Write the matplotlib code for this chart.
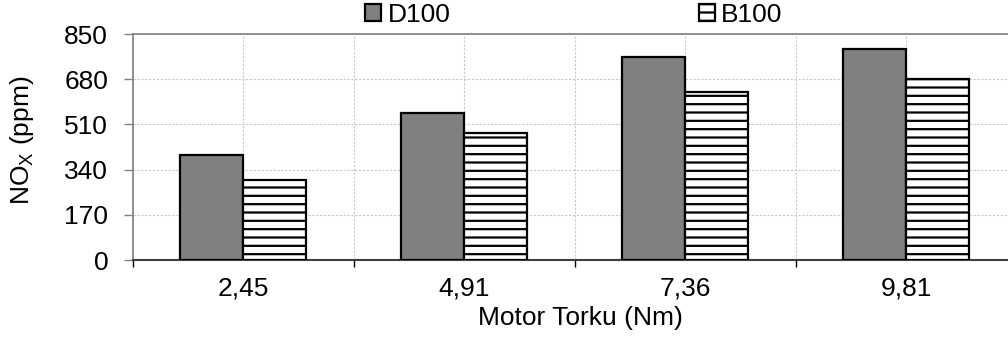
import numpy as np
import matplotlib
matplotlib.use("Agg")
import matplotlib.pyplot as plt

plt.rcParams['font.family'] = ['Liberation Sans', 'DejaVu Sans']
plt.rcParams['mathtext.fontset'] = 'custom'
plt.rcParams['mathtext.rm'] = 'Liberation Sans'
plt.rcParams['mathtext.it'] = 'Liberation Sans'
plt.rcParams['hatch.linewidth'] = 1.6
plt.rcParams['hatch.color'] = 'black'

# data
torque = ['2,45', '4,91', '7,36', '9,81']
d100 = [395, 553, 762, 792]
b100 = [300, 478, 632, 682]
yticks = [0, 170, 340, 510, 680, 850]

fs = 19
fig = plt.figure(figsize=(10.08, 3.37), dpi=100)
ax = fig.add_axes([132.5/1008, 77/337, 884/1008, 226/337])

x = np.arange(len(torque))
w = 0.286
ax.bar(x - w/2, d100, w, color='#808080', edgecolor='black', linewidth=1.6,
       label='D100', zorder=3)
ax.bar(x + w/2, b100, w, color='white', edgecolor='black', linewidth=1.6,
       hatch='--', label='B100', zorder=3)

ax.set_xlim(-0.5, len(torque) - 0.5)
ax.set_ylim(0, 850)
ax.set_yticks(yticks)

# boundaries as major ticks, labels at category centres
ax.set_xticks(np.arange(len(torque) + 1) - 0.5)
ax.set_xticklabels([])
ax.set_xticks(x, minor=True)
ax.set_xticklabels(torque, minor=True)
ax.tick_params(axis='x', which='major', length=5, width=1, color='black', direction='out')
ax.tick_params(axis='x', which='minor', length=0, pad=12, labelsize=fs)
ax.tick_params(axis='y', length=6.5, width=1, color='#808080', labelsize=fs, pad=11)

ax.grid(True, which='both', axis='x', color='#c8c8c8', linestyle=(0, (2, 1.5)), linewidth=0.8, zorder=0)
ax.grid(True, which='major', axis='y', color='#c8c8c8', linestyle=(0, (2, 1.5)), linewidth=0.8, zorder=0)

for s in ['left', 'top', 'right']:
    ax.spines[s].set_color('#808080')
    ax.spines[s].set_linewidth(1.2)
ax.spines['bottom'].set_color('#404040')
ax.spines['bottom'].set_linewidth(1.5)

ax.set_ylabel(r'NO$_\mathrm{X}$ (ppm)', fontsize=fs, va='center')
ax.yaxis.set_label_coords((22 - 132.5) / 884, (260 - 140) / 226)
ax.set_xlabel('Motor Torku (Nm)', fontsize=fs, va='baseline')
ax.xaxis.set_label_coords((580 - 132.5) / 884, (260 - 325) / 226)

ax.legend(loc='center', bbox_to_anchor=(574/1008, 1 - 15/337), bbox_transform=fig.transFigure,
          ncol=2, frameon=False, fontsize=fs, handlelength=0.6, handleheight=0.6,
          handletextpad=0.25, columnspacing=9.4, borderpad=0)

plt.savefig('out.png', dpi=100)
